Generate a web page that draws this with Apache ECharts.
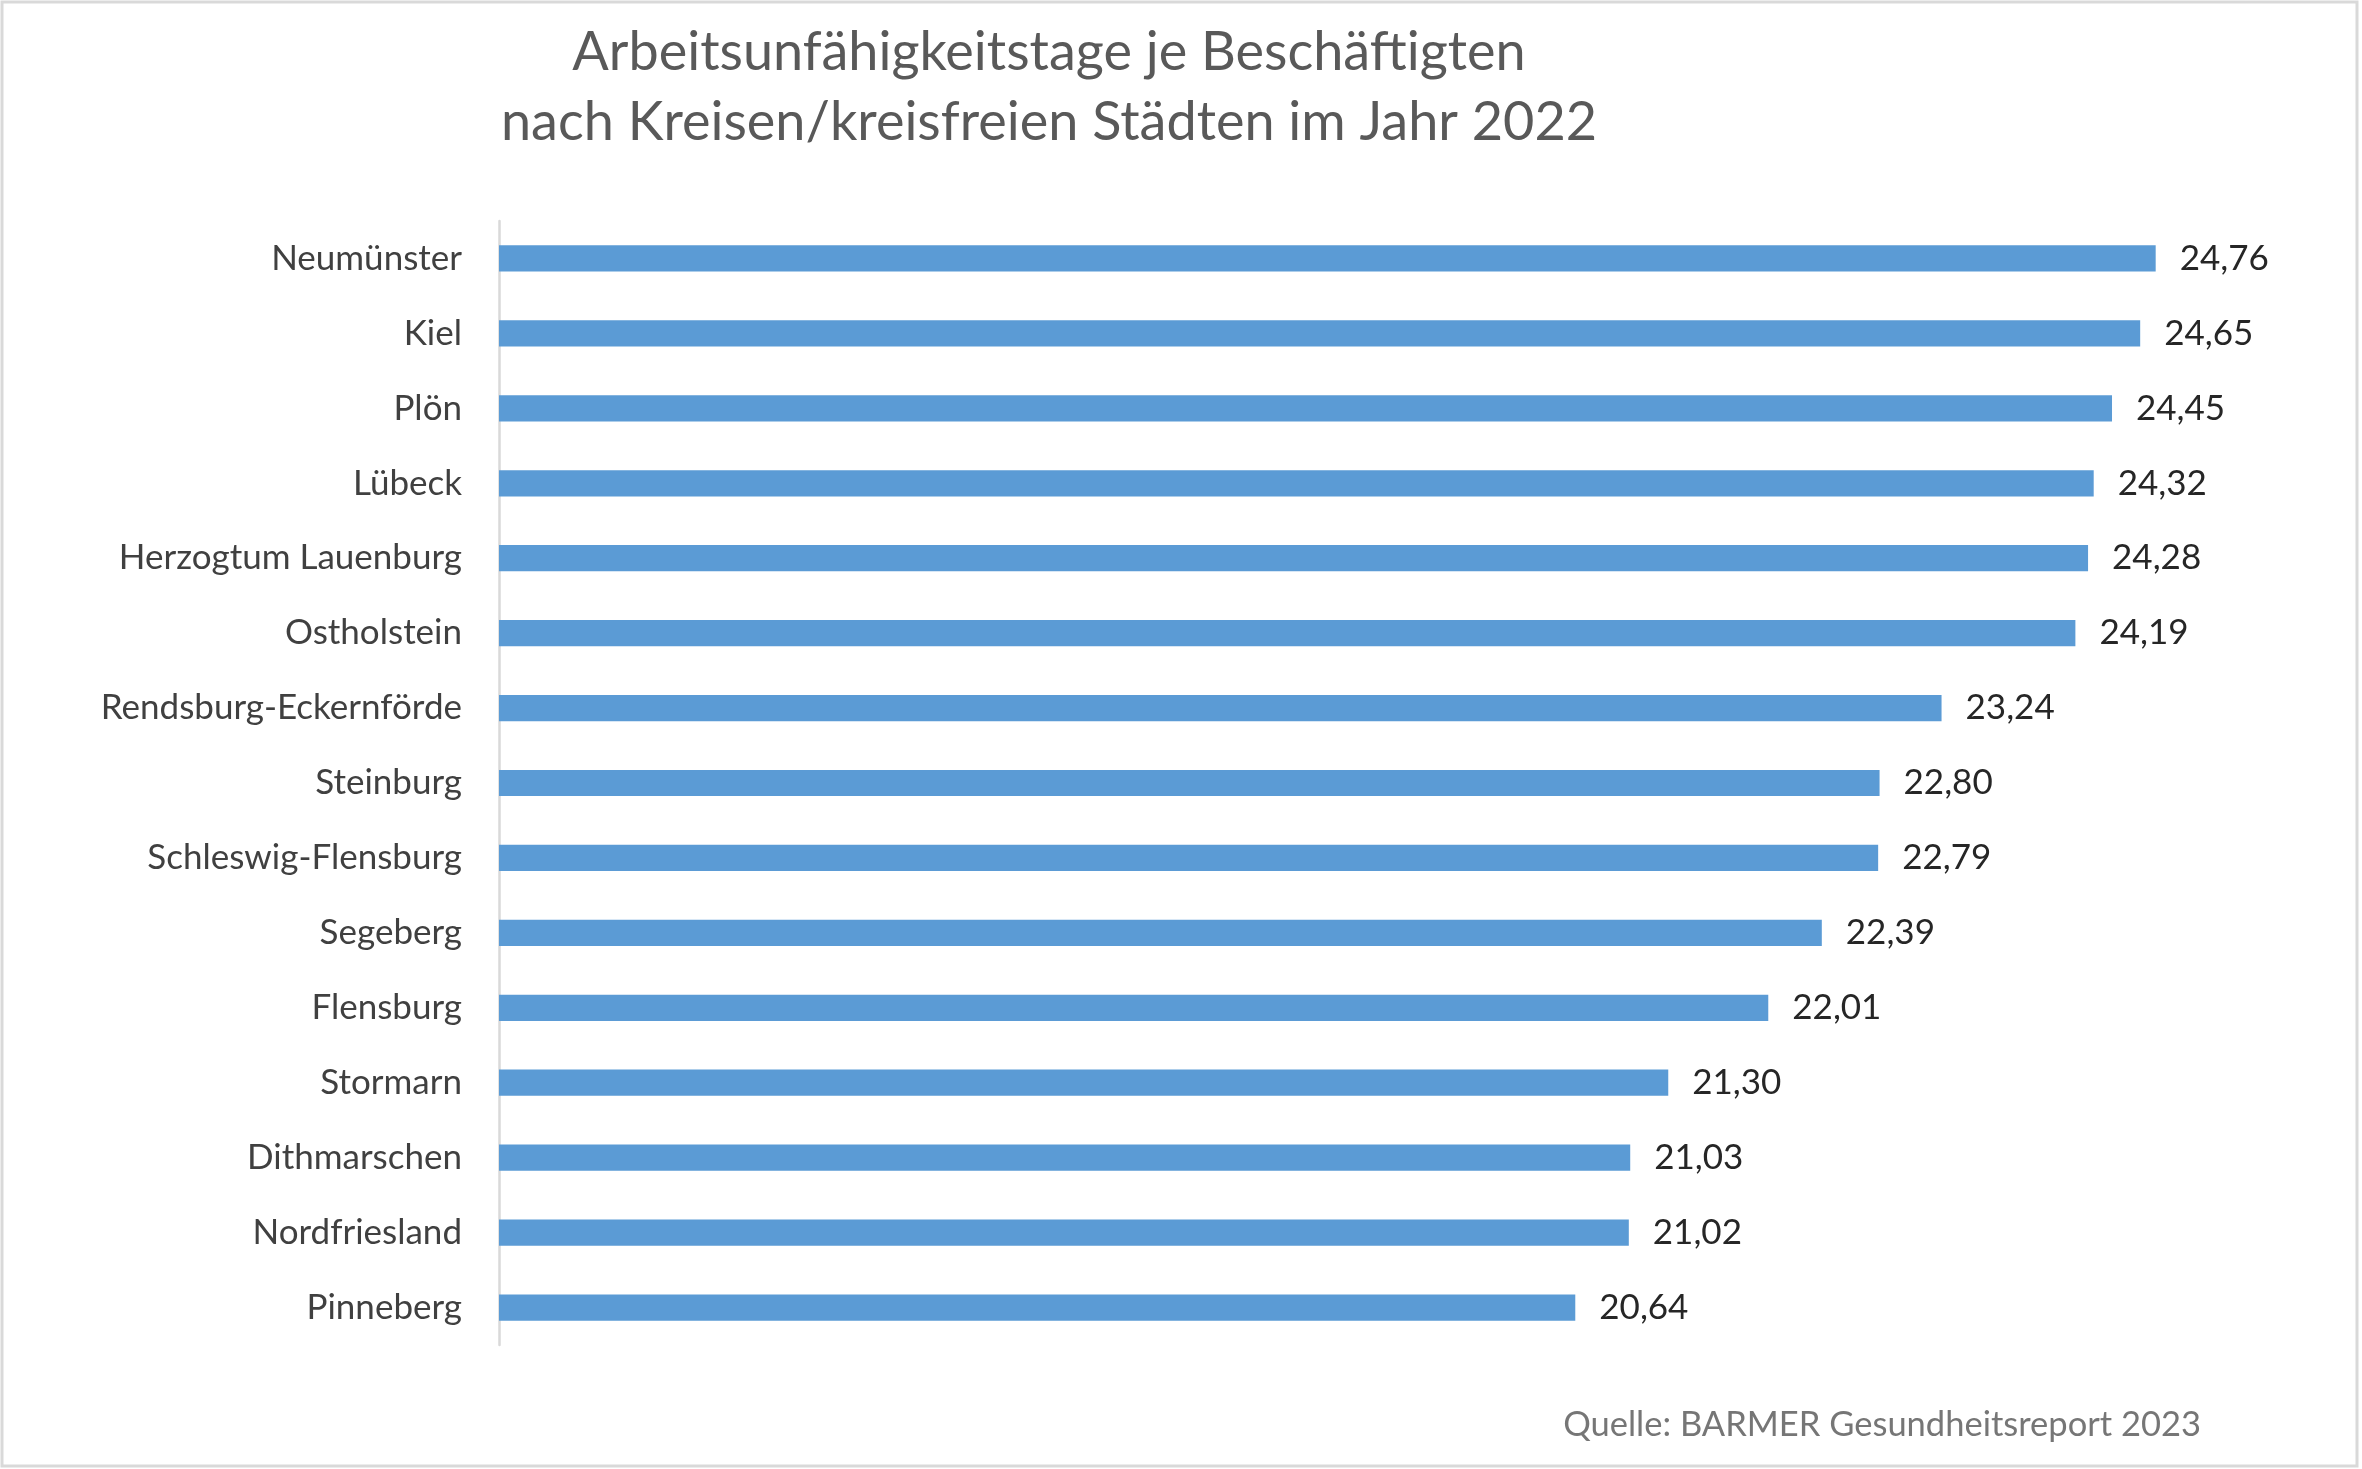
<!DOCTYPE html>
<html>
<head>
<meta charset="utf-8">
<script src="https://cdn.jsdelivr.net/npm/echarts@6/dist/echarts.min.js"></script>
<style>html,body{margin:0;padding:0;background:#fff;}#c{width:2362px;height:1469px;}</style>
</head>
<body>
<div id="c"></div>
<script>
const titleLines = ['Arbeitsunfähigkeitstage je Beschäftigten', 'nach Kreisen/kreisfreien Städten im Jahr 2022'];
const sourceText = 'Quelle: BARMER Gesundheitsreport 2023';
const categories = ['Neumünster','Kiel','Plön','Lübeck','Herzogtum Lauenburg','Ostholstein','Rendsburg-Eckernförde','Steinburg','Schleswig-Flensburg','Segeberg','Flensburg','Stormarn','Dithmarschen','Nordfriesland','Pinneberg'];
const values = [24.76,24.65,24.45,24.32,24.28,24.19,23.24,22.80,22.79,22.39,22.01,21.30,21.03,21.02,20.64];

const chart = echarts.init(document.getElementById('c'));
const FONT = 'Lato, "Noto Sans", sans-serif';
chart.setOption({
  animation: false,
  backgroundColor: '#ffffff',
  title: {
    text: titleLines.join('\n'),
    left: 1044, top: 13,
    textAlign: 'center',
    textStyle: { fontFamily: FONT, fontSize: 54, fontWeight: 'normal', color: '#595959', lineHeight: 70 }
  },
  grid: { left: 499, right: 26, top: 221, bottom: 1469 - 1345, containLabel: false },
  xAxis: {
    type: 'value', min: 13, max: 26.04, show: false
  },
  yAxis: {
    type: 'category', data: categories, inverse: true,
    axisLine: { show: true, lineStyle: { color: '#d9d9d9', width: 2.5 } },
    axisTick: { show: false },
    axisLabel: { margin: 37, fontFamily: FONT, fontSize: 35, color: '#404040' }
  },
  series: [{
    type: 'bar', data: values, barCategoryGap: '65%',
    itemStyle: { color: '#5b9bd5' },
    label: {
      show: true, position: 'right', distance: 24,
      fontFamily: FONT, fontSize: 35, color: '#262626',
      formatter: p => p.value.toFixed(2).replace('.', ',')
    }
  }],
  graphic: [
    { type: 'rect', shape: { x: 2, y: 2, width: 2355, height: 1464 }, style: { fill: 'none', stroke: '#d9d9d9', lineWidth: 3 }, silent: true },
    { type: 'text', x: 2201, y: 1425, style: { text: sourceText, align: 'right', verticalAlign: 'middle', fontFamily: FONT, fontSize: 34.5, fill: '#767676' } }
  ]
});
</script>
</body>
</html>
